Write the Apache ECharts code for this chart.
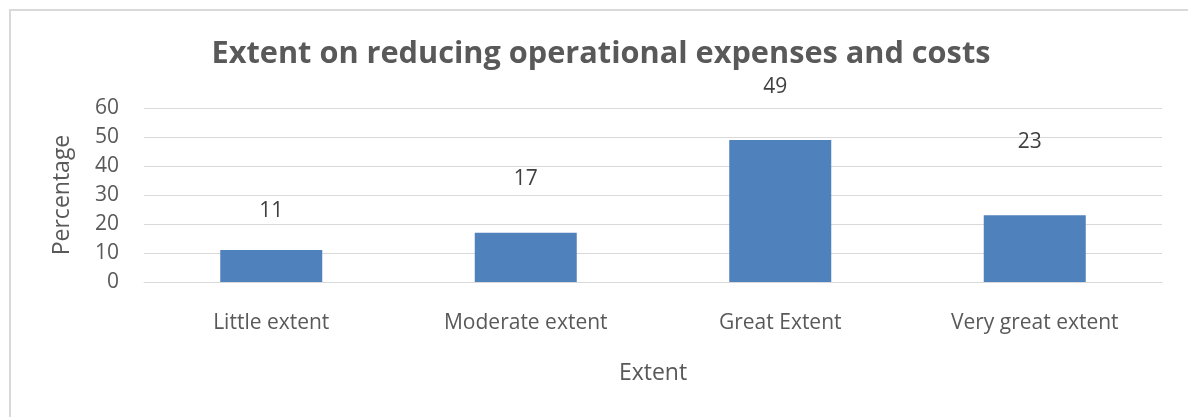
<!DOCTYPE html>
<html>
<head>
<meta charset="utf-8">
<script src="https://cdn.jsdelivr.net/npm/echarts@6/dist/echarts.min.js"></script>
<style>
html,body{margin:0;padding:0;background:#fff;}
#chart{width:1188px;height:417px;}
</style>
</head>
<body>
<div id="chart"></div>
<script>
const categories = ['Little extent', 'Moderate extent', 'Great Extent', 'Very great extent'];
const values = [11, 17, 49, 23];
const labelOffsets = [[0, -24], [0, -38], [-5, -37], [-5, -58]];
const titleText = 'Extent on reducing operational expenses and costs';
const xName = 'Extent';
const yName = 'Percentage';

const FONT = '"Open Sans", sans-serif';
const TXT = '#595959';
const GRID = '#d9d9d9';

const chart = echarts.init(document.getElementById('chart'));
chart.setOption({
  animation: false,
  backgroundColor: '#fff',
  textStyle: { fontFamily: FONT },
  graphic: [{
    type: 'rect', shape: { x: 10, y: 10, width: 1200, height: 440 },
    style: { fill: 'none', stroke: GRID, lineWidth: 2 }, z: -1
  }],
  title: {
    text: titleText, left: 596, top: 34, textAlign: 'center',
    textStyle: { fontFamily: FONT, fontWeight: 'bold', fontSize: 30.7, color: TXT }
  },
  grid: { left: 144, right: 26, top: 108, bottom: 135, containLabel: false },
  xAxis: {
    type: 'category', data: categories,
    axisTick: { show: false },
    axisLine: { show: true, lineStyle: { color: GRID, width: 1 } },
    axisLabel: { color: TXT, fontSize: 21, margin: 31, fontFamily: FONT },
    name: xName, nameLocation: 'middle', nameGap: 80,
    nameTextStyle: { color: TXT, fontSize: 23, fontFamily: FONT }
  },
  yAxis: {
    type: 'value', min: 0, max: 60, interval: 10,
    axisLine: { show: false }, axisTick: { show: false },
    splitLine: { lineStyle: { color: GRID, width: 1 } },
    axisLabel: { color: TXT, fontSize: 21, margin: 25, fontFamily: FONT },
    name: yName, nameLocation: 'middle', nameGap: 70, nameRotate: 90,
    nameTextStyle: { color: TXT, fontSize: 23, fontFamily: FONT }
  },
  series: [{
    type: 'bar',
    data: values.map((v, i) => ({ value: v, label: { offset: labelOffsets[i] } })),
    barWidth: 102,
    itemStyle: { color: '#4f81bd' },
    label: { show: true, position: 'top', color: '#404040', fontSize: 21, fontFamily: FONT }
  }]
});
</script>
</body>
</html>
